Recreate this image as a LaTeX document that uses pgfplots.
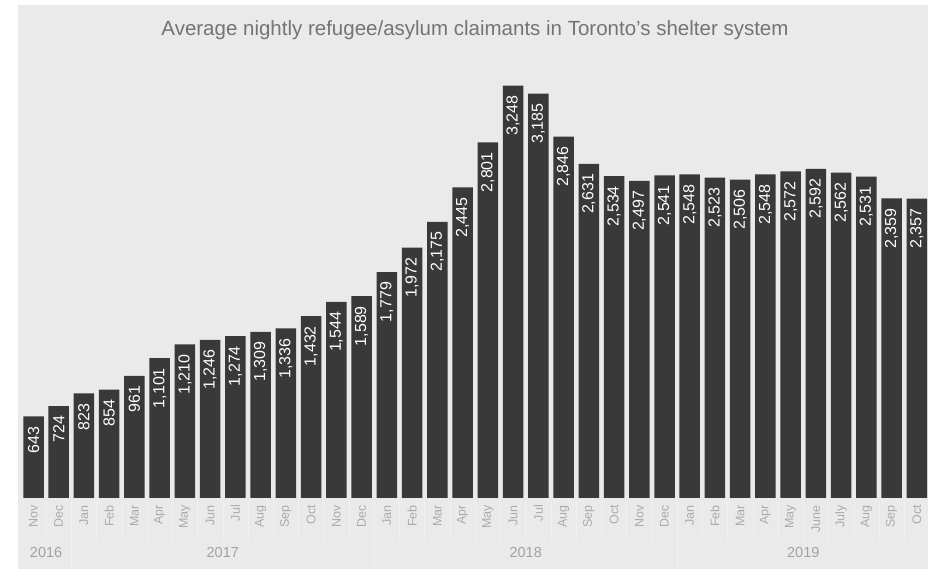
\documentclass[border=0pt]{standalone}
\usepackage{pgfplots}
\pgfplotsset{compat=1.18}
\usepackage{fontspec}
\setmainfont{Liberation Sans}
\definecolor{bg}{HTML}{EAEAEA}
\definecolor{barcol}{HTML}{393939}
\definecolor{titlecol}{HTML}{747474}
\definecolor{tickcol}{HTML}{ABABAB}
\definecolor{yearcol}{HTML}{A2A2A2}
\definecolor{sepcol}{HTML}{F1F1F1}
\begin{document}
\begin{tikzpicture}[x=1pt,y=1pt]
\fill[white] (0,0) rectangle (931,569);
\path[use as bounding box] (0,0) rectangle (931,569);
\fill[bg] (18,0) rectangle (928,564);
\foreach \i in {0,...,34} {\draw[sepcol, line width=0.6pt] ({33.5+25.24*(\i+0.5)},29) -- ({33.5+25.24*(\i+0.5)},67);}
\foreach \i in {1,13,25} {\draw[sepcol, line width=0.6pt] ({33.5+25.24*(\i+0.5)},0) -- ({33.5+25.24*(\i+0.5)},29);}
\node[text=yearcol, font=\fontsize{14.5}{14.5}\selectfont] at (46.1,16) {2016};
\node[text=yearcol, font=\fontsize{14.5}{14.5}\selectfont] at (222.8,16) {2017};
\node[text=yearcol, font=\fontsize{14.5}{14.5}\selectfont] at (525.7,16) {2018};
\node[text=yearcol, font=\fontsize{14.5}{14.5}\selectfont] at (803.3,16) {2019};
\node[text=titlecol, font=\fontsize{20.5}{20.5}\selectfont, anchor=base, inner sep=0pt] at (475,533) {Average nightly refugee/asylum claimants in Toronto's shelter system};
\begin{axis}[
  at={(20.88pt,71pt)}, anchor=south west,
  scale only axis, width=908.64pt, height=493pt,
  xmin=-0.5, xmax=35.5, ymin=0, ymax=3882,
  enlargelimits=false, clip=false,
  axis line style={draw=none}, tick style={draw=none}, major tick length=0pt,
  ytick=\empty,
  xtick={0,...,35},
  xticklabels={Nov,Dec,Jan,Feb,Mar,Apr,May,Jun,Jul,Aug,Sep,Oct,Nov,Dec,Jan,Feb,Mar,Apr,May,Jun,Jul,Aug,Sep,Oct,Nov,Dec,Jan,Feb,Mar,Apr,May,June,July,Aug,Sep,Oct},
  xticklabel style={rotate=90, anchor=east, inner sep=0pt, font=\fontsize{12.5}{12.5}\selectfont, text=tickcol},
  xticklabel shift=7pt,
  ybar, bar width=20.5pt,
  nodes near coords,
  every node near coord/.append style={rotate=90, anchor=east, inner sep=0pt, outer xsep=10pt, font=\fontsize{16}{16}\selectfont, text=white},
  /pgf/number format/.cd, fixed, precision=0, 1000 sep={,}, assume math mode=true
]
\addplot[fill=barcol, draw=none] coordinates {
(0,643) (1,724) (2,823) (3,854) (4,961) (5,1101) (6,1210) (7,1246) (8,1274) (9,1309) (10,1336) (11,1432)
(12,1544) (13,1589) (14,1779) (15,1972) (16,2175) (17,2445) (18,2801) (19,3248) (20,3185) (21,2846) (22,2631) (23,2534)
(24,2497) (25,2541) (26,2548) (27,2523) (28,2506) (29,2548) (30,2572) (31,2592) (32,2562) (33,2531) (34,2359) (35,2357)
};
\end{axis}
\end{tikzpicture}
\end{document}
